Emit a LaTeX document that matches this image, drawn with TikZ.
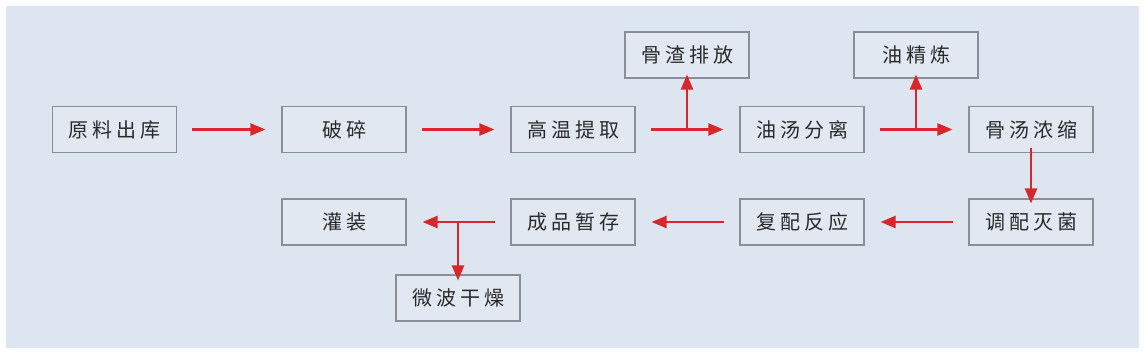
\documentclass[tikz,border=0pt]{standalone}
\usepackage{fontspec}
\newfontfamily\cjk[LetterSpace=20]{Noto Sans CJK SC}
\usetikzlibrary{arrows.meta}
\definecolor{bgpanel}{HTML}{DDE5F0}
\definecolor{boxfill}{HTML}{E1E8F2}
\definecolor{boxline}{HTML}{8A8E96}
\definecolor{arrred}{HTML}{D8262A}
\definecolor{txt}{HTML}{2A2A2A}
\begin{document}
\begin{tikzpicture}[x=1pt,y=-1pt,
  stepbox/.style={draw=boxline,line width=1.1pt,fill=boxfill,minimum width=124pt,minimum height=46pt,inner sep=0pt,font=\cjk\fontsize{20}{20}\selectfont,text=txt},
  flow/.style={draw=arrred,line width=2.2pt,-{Triangle[length=15pt,width=12pt]}}]
\useasboundingbox (0,0) rectangle (1147,355);
\fill[white] (0,0) rectangle (1147,355);
\fill[bgpanel] (6,6) rectangle (1139,348);
% row 1
\node[stepbox] (a) at (114.5,129.5) {原料出库\hspace{-4pt}};
\node[stepbox] (b) at (344,129.5) {破碎\hspace{-4pt}};
\node[stepbox] (c) at (573,129.5) {高温提取\hspace{-4pt}};
\node[stepbox] (d) at (802,129.5) {油汤分离\hspace{-4pt}};
\node[stepbox] (e) at (1031,129.5) {骨汤浓缩\hspace{-4pt}};
\node[stepbox] (f) at (687,55) {骨渣排放\hspace{-4pt}};
\node[stepbox] (g) at (916,55) {油精炼\hspace{-4pt}};
% row 2
\node[stepbox] (h) at (1031,222) {调配灭菌\hspace{-4pt}};
\node[stepbox] (i) at (802,222) {复配反应\hspace{-4pt}};
\node[stepbox] (j) at (573,222) {成品暂存\hspace{-4pt}};
\node[stepbox] (k) at (344,222) {灌装\hspace{-4pt}};
\node[stepbox] (l) at (458,298) {微波干燥\hspace{-4pt}};
% connectors
\draw[flow] ([xshift=15pt]a.east) -- ([xshift=-16pt]b.west);
\draw[flow] ([xshift=15pt]b.east) -- ([xshift=-16pt]c.west);
\draw[flow] ([xshift=15pt]c.east) -- ([xshift=-16pt]d.west);
\draw[flow] ([xshift=15pt]d.east) -- ([xshift=-16pt]e.west);
\coordinate (cb) at (f.south |- c.east);
\coordinate (db) at (g.south |- d.east);
\draw[flow] (cb) -- ([yshift=4pt]f.south);
\draw[flow] (db) -- ([yshift=4pt]g.south);
\draw[flow] ([yshift=5pt]e.south) -- ([yshift=-5pt]h.north);
\draw[flow] ([xshift=-15pt]h.west) -- ([xshift=16pt]i.east);
\draw[flow] ([xshift=-15pt]i.west) -- ([xshift=16pt]j.east);
\draw[flow] ([xshift=-15pt]j.west) -- ([xshift=16pt]k.east);
\coordinate (jb) at (l.north |- j.west);
\draw[flow] (jb) -- ([yshift=-6pt]l.north);
\end{tikzpicture}
\end{document}
